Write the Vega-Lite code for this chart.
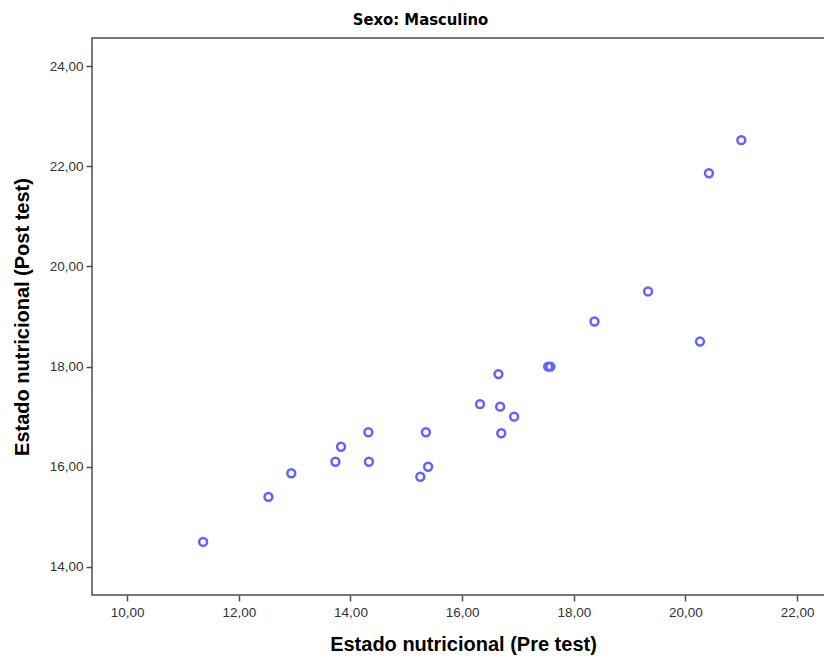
{
  "$schema": "https://vega.github.io/schema/vega-lite/v6.json",
  "autosize": {"type": "none"},
  "padding": {"left": 92, "top": 38, "right": 0, "bottom": 62},
  "width": 735,
  "height": 557,
  "title": {"text": "Sexo: Masculino", "fontSize": 16.5, "font": "DejaVu Sans Condensed", "fontWeight": "bold", "color": "#000000", "anchor": "middle", "dx": -39, "offset": 10},
  "data": {"values": [
    {"pre": 11.36, "post": 14.50},
    {"pre": 12.53, "post": 15.40},
    {"pre": 12.94, "post": 15.87},
    {"pre": 13.73, "post": 16.10},
    {"pre": 13.83, "post": 16.40},
    {"pre": 14.32, "post": 16.69},
    {"pre": 14.33, "post": 16.10},
    {"pre": 15.25, "post": 15.80},
    {"pre": 15.35, "post": 16.69},
    {"pre": 15.39, "post": 16.00},
    {"pre": 16.32, "post": 17.25},
    {"pre": 16.65, "post": 17.85},
    {"pre": 16.68, "post": 17.20},
    {"pre": 16.70, "post": 16.67},
    {"pre": 16.93, "post": 17.00},
    {"pre": 17.54, "post": 18.00},
    {"pre": 17.58, "post": 18.00},
    {"pre": 18.37, "post": 18.90},
    {"pre": 19.33, "post": 19.50},
    {"pre": 20.26, "post": 18.50},
    {"pre": 20.42, "post": 21.86},
    {"pre": 21.00, "post": 22.52}
  ]},
  "mark": {"type": "point", "shape": "circle", "filled": false, "size": 62, "strokeWidth": 2.5, "color": "#6262ff", "opacity": 1},
  "encoding": {
    "x": {"field": "pre", "type": "quantitative", "title": "Estado nutricional (Pre test)",
      "scale": {"domain": [9.37, 22.535], "nice": false, "zero": false},
      "axis": {"values": [10, 12, 14, 16, 18, 20, 22], "format": ".2f", "grid": false, "domain": false, "tickColor": "#4d4d4d", "tickSize": 6, "tickWidth": 1.5, "labelFontSize": 13.5, "labelFont": "Liberation Sans", "labelColor": "#333333", "labelPadding": 4, "titleFontSize": 20, "titleFont": "Liberation Sans", "titleFontWeight": "bold", "titleColor": "#000000", "titlePadding": 16, "titleX": 371, "titleAnchor": "middle"}},
    "y": {"field": "post", "type": "quantitative", "title": "Estado nutricional (Post test)",
      "scale": {"domain": [13.44, 24.56], "nice": false, "zero": false},
      "axis": {"values": [14, 16, 18, 20, 22, 24], "format": ".2f", "grid": false, "domain": false, "tickColor": "#4d4d4d", "tickSize": 6, "tickWidth": 1.5, "labelFontSize": 13.5, "labelFont": "Liberation Sans", "labelColor": "#333333", "labelPadding": 3, "titleFontSize": 20, "titleFont": "Liberation Sans", "titleFontWeight": "bold", "titleColor": "#000000", "titlePadding": 17}}
  },
  "config": {
    "locale": {"number": {"decimal": ",", "thousands": ".", "grouping": [3], "currency": ["", "€"]}},
    "view": {"stroke": "#4d4d4d", "strokeWidth": 1.5}
  }
}
